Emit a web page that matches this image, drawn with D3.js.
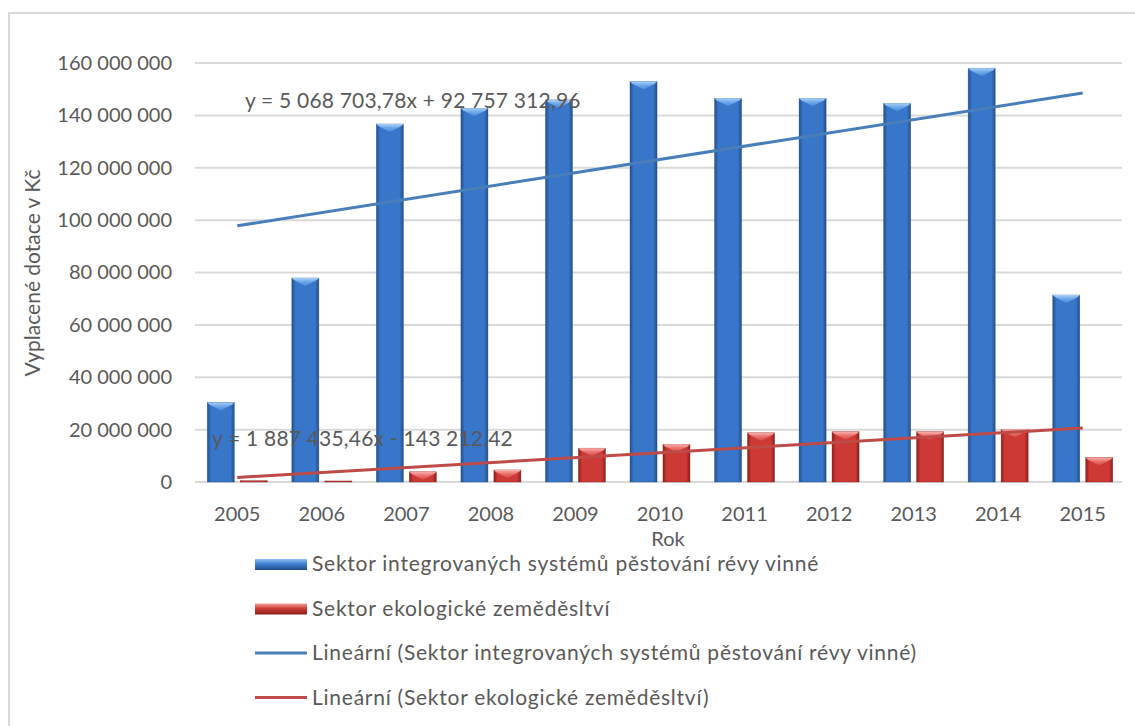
<!DOCTYPE html>
<html>
<head>
<meta charset="utf-8">
<script src="https://cdn.jsdelivr.net/npm/d3@7"></script>
<style>
  html, body { margin: 0; padding: 0; background: #fff; }
  svg { display: block; font-family: Lato, "Open Sans", sans-serif; }
</style>
</head>
<body>
<svg id="chart" width="1135" height="726"></svg>
<script>
// Vyplacené dotace podle let
const years = ["2005","2006","2007","2008","2009","2010","2011","2012","2013","2014","2015"];
const integrovane = [30400000, 77900000, 136700000, 142700000, 145900000, 152900000, 146500000, 146500000, 144600000, 158000000, 71400000];
const ekologicke = [500000, 400000, 3900000, 4600000, 12900000, 14400000, 18800000, 19200000, 19200000, 20100000, 9400000];
const seriesNames = ["Sektor integrovaných systémů pěstování révy vinné", "Sektor ekologické zeměděsltví"];
const trendNames = ["Lineární (Sektor integrovaných systémů pěstování révy vinné)", "Lineární (Sektor ekologické zeměděsltví)"];
// Lineární trendy: [sklon, úsek]
const trendIntegrovane = [5068703.78, 92757312.96];
const trendEkologicke = [1887435.46, -143212.42];
const trendLabels = ["y = 5 068 703,78x + 92 757 312,96", "y = 1 887 435,46x - 143 212,42"];
const yTicks = [0, 20000000, 40000000, 60000000, 80000000, 100000000, 120000000, 140000000, 160000000];

const svg = d3.select("#chart");
const textColor = "#595959";
const defs = svg.append("defs");

// Bar shading: darker edges, lighter centre
function hGrad(id, edge, mid) {
  const g = defs.append("linearGradient").attr("id", id).attr("x1", 0).attr("x2", 1).attr("y1", 0).attr("y2", 0);
  g.append("stop").attr("offset", "0%").attr("stop-color", edge);
  g.append("stop").attr("offset", "14%").attr("stop-color", mid);
  g.append("stop").attr("offset", "86%").attr("stop-color", mid);
  g.append("stop").attr("offset", "100%").attr("stop-color", edge);
}
function vGrad(id, top, mid, bottom) {
  const g = defs.append("linearGradient").attr("id", id).attr("x1", 0).attr("x2", 0).attr("y1", 0).attr("y2", 1);
  g.append("stop").attr("offset", "0%").attr("stop-color", top);
  g.append("stop").attr("offset", "45%").attr("stop-color", mid);
  g.append("stop").attr("offset", "100%").attr("stop-color", bottom);
}
hGrad("gBlue", "#234f8c", "#3776c9");
hGrad("gRed", "#8e1e1b", "#cd3a35");
vGrad("capBlue", "#a9d0f7", "#6fa9ea", "#4c8ad6");
vGrad("capRed", "#f7b2ae", "#ec7571", "#d64b46");
vGrad("lgBlue", "#8fc2f2", "#3f7fd0", "#1f4c8c");
vGrad("lgRed", "#f4a09c", "#d03d38", "#8a1d1a");

// Outer frame
svg.append("rect").attr("x", 9).attr("y", 13).attr("width", 1140).attr("height", 730)
  .attr("fill", "none").attr("stroke", "#d9d9d9").attr("stroke-width", 2);

const plotLeft = 195, plotRight = 1125, plotTop = 63, plotBottom = 482;

const y = d3.scaleLinear().domain([0, 160000000]).range([plotBottom, plotTop]);
const x0 = d3.scaleBand().domain(years).range([plotLeft, plotRight]).padding(0);
const groupW = 60;
const x1 = d3.scaleBand().domain([0, 1]).range([0, groupW]).paddingInner(0.18);
const center = yr => x0(yr) + x0.bandwidth() / 2;

const loc = d3.formatLocale({ decimal: ",", thousands: " ", grouping: [3], currency: ["", ""] });
const fmt = loc.format(",.0f");

// Gridlines
svg.append("g").selectAll("line").data(yTicks).join("line")
  .attr("x1", plotLeft).attr("x2", 1122)
  .attr("y1", d => y(d)).attr("y2", d => y(d))
  .attr("stroke", "#d9d9d9").attr("stroke-width", 2);

// Y axis
const yAxis = svg.append("g").attr("transform", `translate(${plotLeft},0)`)
  .call(d3.axisLeft(y).tickValues(yTicks).tickFormat(fmt).tickSize(0).tickPadding(23));
yAxis.select(".domain").remove();
yAxis.selectAll("text").attr("fill", textColor).attr("font-size", 20).attr("font-family", "Lato, sans-serif");

// X axis
const xAxis = svg.append("g").attr("transform", `translate(0,${plotBottom})`)
  .call(d3.axisBottom(x0).tickSize(0).tickPadding(25));
xAxis.select(".domain").remove();
xAxis.selectAll("text").attr("fill", textColor).attr("font-size", 20).attr("font-family", "Lato, sans-serif");

// Axis titles
svg.append("text").attr("x", 668).attr("y", 546).attr("text-anchor", "middle")
  .attr("fill", textColor).attr("font-size", 20).text("Rok");
svg.append("text").attr("transform", "translate(40,273) rotate(-90)").attr("text-anchor", "middle")
  .attr("fill", textColor).attr("font-size", 21).text("Vyplacené dotace v Kč");

// Bars
const data = years.map((yr, i) => ({ yr, vals: [integrovane[i], ekologicke[i]] }));
const fills = ["url(#gBlue)", "url(#gRed)"];
const caps = ["url(#capBlue)", "url(#capRed)"];
const outlines = ["#1d4a86", "#7d1a17"];

const groups = svg.append("g").selectAll("g").data(data).join("g")
  .attr("transform", d => `translate(${center(d.yr) - groupW / 2},0)`);

groups.each(function(d) {
  const g = d3.select(this);
  d.vals.forEach((v, s) => {
    const bx = x1(s), bw = x1.bandwidth();
    const top = y(v), h = y(0) - y(v);
    g.append("rect").attr("x", bx).attr("y", top).attr("width", bw).attr("height", h)
      .attr("fill", fills[s]).attr("stroke", outlines[s]).attr("stroke-width", 0.6).attr("stroke-opacity", 0.6);
    const capH = Math.min(8, h);
    if (capH > 1.5) {
      // bevelled top
      g.append("path")
        .attr("d", `M${bx},${top} L${bx + bw},${top} L${bx + bw - 2},${top + 2} L${bx + bw / 2},${top + capH} L${bx + 2},${top + 2} Z`)
        .attr("fill", caps[s]);
    }
  });
});

// Trendlines
const trendColors = ["#4a7ebb", "#be4b48"];
[trendIntegrovane, trendEkologicke].forEach((t, s) => {
  const pts = years.map((yr, i) => [center(yr), y(t[0] * (i + 1) + t[1])]);
  svg.append("path").attr("d", d3.line()([pts[0], pts[pts.length - 1]]))
    .attr("stroke", trendColors[s]).attr("stroke-width", 3).attr("fill", "none");
});

// Equation labels
svg.append("text").attr("x", 245).attr("y", 108).attr("fill", textColor).attr("font-size", 21)
  .attr("letter-spacing", 0.2).text(trendLabels[0]);
svg.append("text").attr("x", 212).attr("y", 446).attr("fill", textColor).attr("font-size", 21)
  .attr("letter-spacing", 0.2).text(trendLabels[1]);

// Legend
const legendRows = [
  { type: "bar", fill: "url(#lgBlue)", label: seriesNames[0] },
  { type: "bar", fill: "url(#lgRed)", label: seriesNames[1] },
  { type: "line", color: trendColors[0], label: trendNames[0] },
  { type: "line", color: trendColors[1], label: trendNames[1] }
];
const legend = svg.append("g");
legendRows.forEach((r, i) => {
  const cy = 564 + i * 44.5;
  if (r.type === "bar") {
    legend.append("rect").attr("x", 255).attr("y", cy - 5).attr("width", 52).attr("height", 11).attr("fill", r.fill);
  } else {
    legend.append("line").attr("x1", 255).attr("x2", 307).attr("y1", cy).attr("y2", cy)
      .attr("stroke", r.color).attr("stroke-width", 3);
  }
  legend.append("text").attr("x", 312).attr("y", cy).attr("dy", "0.35em")
    .attr("fill", textColor).attr("font-size", 21).attr("letter-spacing", 0.75).text(r.label);
});
</script>
</body>
</html>
